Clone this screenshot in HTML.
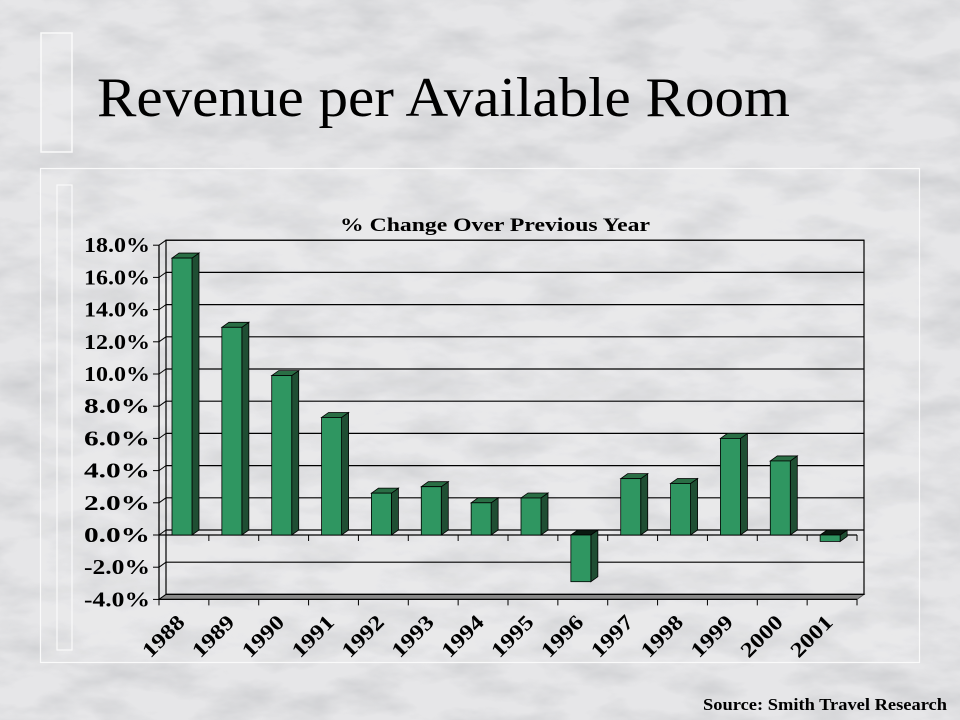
<!DOCTYPE html>
<html><head><meta charset="utf-8"><style>
html,body{margin:0;padding:0;width:960px;height:720px;overflow:hidden}
body{background:#e4e4e6;position:relative;font-family:"Liberation Serif",serif}
svg{display:block;position:absolute;left:0;top:0}
</style></head><body>
<svg id="bg" width="960" height="720">
<defs>
<filter id="marble" x="0" y="0" width="100%" height="100%">
<feTurbulence type="fractalNoise" baseFrequency="0.015 0.035" numOctaves="4" seed="7"/>
<feColorMatrix type="matrix" values="0 0 0 0 0.5  0 0 0 0 0.51  0 0 0 0 0.53  -1.8 0 0 0 1.1" />
</filter>
</defs>
<rect width="960" height="720" fill="#e6e6e8"/>
<rect width="960" height="720" filter="url(#marble)" opacity="0.6"/>
</svg>
<svg id="chart" width="960" height="720">
<rect x="41" y="33" width="31" height="119" fill="rgba(255,255,255,0.15)" stroke="#fafafa" stroke-width="1.5"/>
<text x="97" y="116" font-size="56" textLength="693" lengthAdjust="spacingAndGlyphs" fill="#000">Revenue per Available Room</text>
<rect x="40.5" y="168.5" width="879" height="494" fill="rgba(255,255,255,0.12)" stroke="#fafafa" stroke-width="1.2"/>
<rect x="57" y="185" width="15" height="465" fill="none" stroke="#fafafa" stroke-width="1.2"/>
<text x="340" y="231" font-size="19" font-weight="bold" textLength="310" lengthAdjust="spacingAndGlyphs">% Change Over Previous Year</text>
<g id="plot"></g>
<text x="703" y="710" font-size="17" font-weight="bold" textLength="244" lengthAdjust="spacingAndGlyphs">Source: Smith Travel Research</text>
</svg>
<script>
const categories=["1988","1989","1990","1991","1992","1993","1994","1995","1996","1997","1998","1999","2000","2001"];
const values=[17.2,12.9,9.9,7.3,2.6,3.0,2.0,2.3,-2.9,3.5,3.2,6.0,4.6,-0.4];
const yTicks=[18,16,14,12,10,8,6,4,2,0,-2,-4];
const NS="http://www.w3.org/2000/svg";
const g=document.getElementById('plot');
const X0=159,X1=857,Y0=535,PX=16.1,DX=7,DY=5;
const y=v=>Y0-v*PX;
const step=(X1-X0)/categories.length;
const x=i=>X0+i*step;
function mk(t,a,p){const e=document.createElementNS(NS,t);for(const k in a)e.setAttribute(k,a[k]);(p||g).appendChild(e);return e;}
const fl=mk('polygon',{points:`${X0},${y(-4)} ${X0+DX},${y(-4)-DY} ${X1+DX},${y(-4)-DY} ${X1},${y(-4)}`,fill:'#8a8a8a',stroke:'#555'});


yTicks.forEach(t=>{
 const l=mk('line',{x1:X0+DX,x2:X1+DX,y1:y(t)-DY,y2:y(t)-DY,stroke:'#000','stroke-width':1.2});
 
 
 const d=mk('line',{x1:X0,x2:X0+DX,y1:y(t),y2:y(t)-DY,stroke:'#000'});
 
 
 const tk=mk('line',{x1:X0-6,x2:X0,y1:y(t),y2:y(t),stroke:'#000'});
 
 
 const tx=mk('text',{x:X0-9,y:y(t)+7,'font-size':21,'font-weight':'bold','text-anchor':'end',textLength:66,lengthAdjust:'spacingAndGlyphs'});
 tx.textContent=t.toFixed(1)+'%';
 
 
});
const bw=mk('rect',{x:X0+DX,y:y(18)-DY,width:X1-X0,height:y(-4)-y(18),fill:'none',stroke:'#000','stroke-width':1.2});


const ya=mk('line',{x1:X0,x2:X0,y1:y(18),y2:y(-4),stroke:'#000','stroke-width':1.3});


const xa=mk('line',{x1:X0,x2:X1,y1:y(0),y2:y(0),stroke:'#000','stroke-width':1.2});


const xb=mk('line',{x1:X0,x2:X1,y1:y(-4),y2:y(-4),stroke:'#000','stroke-width':1.2});


for(let i=0;i<=categories.length;i++){
 const t1=mk('line',{x1:x(i),x2:x(i),y1:y(0),y2:y(0)+6,stroke:'#000'});
 
 
 const t2=mk('line',{x1:x(i),x2:x(i),y1:y(-4),y2:y(-4)+6,stroke:'#000'});
 
 
}
categories.forEach((c,i)=>{
 const v=values[i];
 const bx=x(i)+13, w=20;
 const top=Math.min(y(v),Y0), bot=Math.max(y(v),Y0);
 const grp=mk('g',{});
 
 
 mk('polygon',{points:`${bx+w},${top} ${bx+w+DX},${top-DY} ${bx+w+DX},${bot-DY} ${bx+w},${bot}`,fill:'#1f4e33',stroke:'#000','stroke-width':0.8},grp);
 mk('polygon',{points:`${bx},${top} ${bx+DX},${top-DY} ${bx+w+DX},${top-DY} ${bx+w},${top}`,fill:v<0?'#0a1a10':'#2a6e45',stroke:'#000','stroke-width':0.8},grp);
 mk('rect',{x:bx,y:top,width:w,height:bot-top,fill:'#2f9661',stroke:'#000','stroke-width':0.8},grp);
 const cx=x(i)+step/2;
 const ax=cx+2, ay=y(-4)+24;
 const lb=mk('text',{x:ax,y:ay,'font-size':21,'font-weight':'bold','text-anchor':'end',textLength:50,lengthAdjust:'spacingAndGlyphs',transform:`rotate(-45 ${ax} ${ay})`});
 lb.textContent=c;
 
 
});
</script>
</body></html>
